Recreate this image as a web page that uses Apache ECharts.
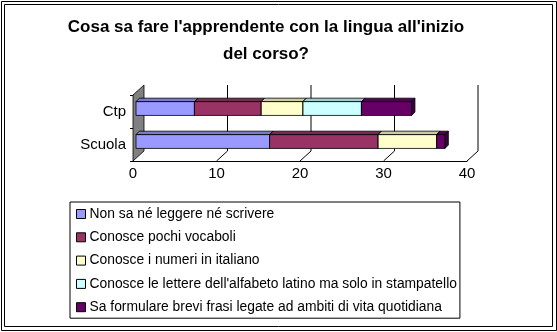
<!DOCTYPE html>
<html>
<head>
<meta charset="utf-8">
<script src="https://cdn.jsdelivr.net/npm/echarts@6/dist/echarts.min.js"></script>
<style>
  html, body { margin: 0; padding: 0; background: #fff; }
  #chart { width: 557px; height: 332px; }
</style>
</head>
<body>
<div id="chart"></div>
<script>
// Categories, bottom to top on the vertical axis
const categories = ['Scuola', 'Ctp'];

const seriesNames = [
  'Non sa né leggere né scrivere',
  'Conosce pochi vocaboli',
  'Conosce i numeri in italiano',
  "Conosce le lettere dell'alfabeto latino ma solo in stampatello",
  'Sa formulare brevi frasi legate ad ambiti di vita quotidiana'
];

// Values per category (Scuola, Ctp)
const nonSa   = [16, 7];
const pochi   = [13, 8];
const numeri  = [7, 5];
const lettere = [0, 7];
const frasi   = [1, 6];

const xTicks = [0, 10, 20, 30, 40];

const seriesValues = [nonSa, pochi, numeri, lettere, frasi];
const colors = ['#9999FF', '#993366', '#FFFFCC', '#CCFFFF', '#660066'];

// 3D look: offset of the back wall and bar depth
const WALL_DX = 11, WALL_DY = 10;
const BAR_DX = 3, BAR_DY = -3, BAR_DEPTH = 3.4, BAR_RATIO = 0.42;

function shade(hex, f) {
  const n = parseInt(hex.slice(1), 16);
  const r = Math.round(((n >> 16) & 255) * f);
  const g = Math.round(((n >> 8) & 255) * f);
  const b = Math.round((n & 255) * f);
  return 'rgb(' + r + ',' + g + ',' + b + ')';
}

// Running totals so each segment starts where the previous one ends
const starts = seriesValues.map(() => categories.map(() => 0));
categories.forEach((c, i) => {
  let acc = 0;
  seriesValues.forEach((vals, k) => { starts[k][i] = acc; acc += vals[i]; });
});

const barSeries = seriesValues.map((vals, k) => ({
  name: seriesNames[k],
  type: 'custom',
  z: 3,
  itemStyle: { color: colors[k], borderColor: '#000', borderWidth: 1 },
  encode: { x: [0, 1], y: 2 },
  data: categories.map((c, i) => [starts[k][i], starts[k][i] + vals[i], i]),
  renderItem: function (params, api) {
    const s = api.coord([api.value(0), api.value(2)]);
    const e = api.coord([api.value(1), api.value(2)]);
    const band = api.size([0, 1])[1];
    const h = band * BAR_RATIO;
    const x0 = s[0] + BAR_DX, x1 = e[0] + BAR_DX;
    if (x1 - x0 <= 0.01) return null;
    const yc = s[1] + BAR_DY;
    const top = yc - h / 2, bottom = yc + h / 2;
    const D = BAR_DEPTH;
    const line = { stroke: '#000', lineWidth: 0.8 };
    return {
      type: 'group',
      children: [
        { type: 'rect', shape: { x: x0, y: top, width: x1 - x0, height: h },
          style: Object.assign({ fill: colors[k] }, line) },
        { type: 'polygon', shape: { points: [[x0, top], [x1, top], [x1 + D, top - D], [x0 + D, top - D]] },
          style: Object.assign({ fill: shade(colors[k], 0.8) }, line) },
        { type: 'polygon', shape: { points: [[x1, top], [x1, bottom], [x1 + D, bottom - D], [x1 + D, top - D]] },
          style: Object.assign({ fill: shade(colors[k], 0.6) }, line) }
      ]
    };
  }
}));

// Side wall, floor edges and back-plane grid lines
const frameSeries = {
  type: 'custom',
  name: 'frame',
  z: 1,
  silent: true,
  encode: { x: 0, y: 1 },
  data: xTicks.map(v => [v, 0]),
  renderItem: function (params, api) {
    const cs = params.coordSys;
    const p = api.coord([api.value(0), 0]);
    const x = p[0];
    const top = cs.y, bottom = cs.y + cs.height;
    const line = { stroke: '#000', lineWidth: 1, fill: null };
    const children = [];
    if (api.value(0) === 0) {
      children.push({ type: 'polygon',
        shape: { points: [[x, top], [x, bottom], [x + WALL_DX, bottom - WALL_DY], [x + WALL_DX, top - WALL_DY]] },
        style: { fill: '#808080', stroke: '#000', lineWidth: 0.8 } });
    } else {
      children.push({ type: 'line',
        shape: { x1: x + WALL_DX, y1: bottom - WALL_DY, x2: x + WALL_DX, y2: top - WALL_DY }, style: line });
      children.push({ type: 'line',
        shape: { x1: x, y1: bottom, x2: x + WALL_DX, y2: bottom - WALL_DY }, style: line });
    }
    return { type: 'group', children: children };
  }
};

const chart = echarts.init(document.getElementById('chart'), null, { renderer: 'canvas' });
const FONT = 'Liberation Sans, Arial, sans-serif';

chart.setOption({
  animation: false,
  backgroundColor: '#fff',
  title: {
    text: "Cosa sa fare l'apprendente con la lingua all'inizio\ndel corso?",
    left: 261,
    top: 9,
    textAlign: 'center',
    textStyle: { fontFamily: FONT, fontSize: 17, fontWeight: 'bold', color: '#000', lineHeight: 27 }
  },
  graphic: [
    { type: 'rect', shape: { x: 1.5, y: 1.5, width: 555, height: 329 }, style: { fill: null, stroke: '#000', lineWidth: 1 }, silent: true },
    { type: 'rect', shape: { x: 4.5, y: 4.5, width: 548, height: 322 }, style: { fill: null, stroke: '#000', lineWidth: 1 }, silent: true }
  ],
  legend: {
    data: seriesNames,
    orient: 'vertical',
    left: 70,
    top: 202,
    padding: [5, 3, 4, 6],
    itemGap: 9.3,
    itemWidth: 9,
    itemHeight: 9,
    icon: 'rect',
    borderColor: '#000',
    borderWidth: 1,
    selectedMode: false,
    itemStyle: { borderColor: '#000', borderWidth: 1 },
    textStyle: { fontFamily: FONT, fontSize: 13.85, color: '#000', padding: [0, 0, 0, -1] }
  },
  grid: { left: 133, right: 90, top: 95, height: 66, containLabel: false },
  xAxis: {
    type: 'value',
    min: 0, max: 40, interval: 10,
    axisLine: { show: true, lineStyle: { color: '#000', width: 1 } },
    axisTick: { show: false },
    splitLine: { show: false },
    axisLabel: { fontFamily: FONT, fontSize: 15, color: '#000', margin: 5 }
  },
  yAxis: {
    type: 'category',
    data: categories,
    axisLine: { show: true, lineStyle: { color: '#000', width: 1 } },
    axisTick: { show: true, length: 3, lineStyle: { color: '#000' } },
    splitLine: { show: false },
    axisLabel: { fontFamily: FONT, fontSize: 15, color: '#000', margin: 7 }
  },
  series: [frameSeries].concat(barSeries)
});
</script>
</body>
</html>
